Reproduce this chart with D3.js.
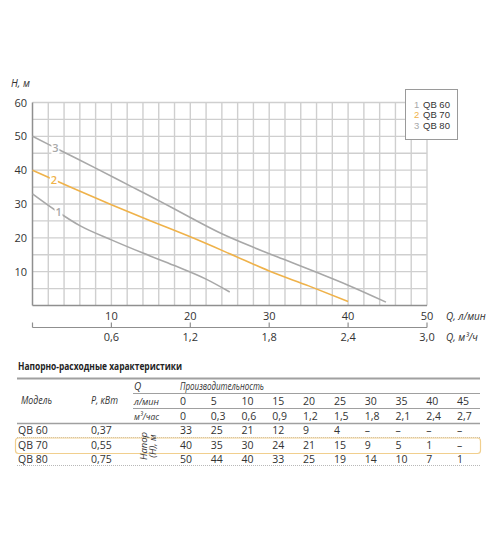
<!DOCTYPE html>
<html lang="ru">
<head>
    <meta charset="utf-8">
    <title>QB pumps: head-flow curves</title>
    <script type="text/javascript" src="https://d3js.org/d3.v7.min.js"></script>
    <style>
        body { margin: 0; background: #fff; }
        text { font-family: "Open Sans", "Noto Sans", sans-serif; fill: #333; }
    </style>
</head>
<body>
    <script type="text/javascript">

        // Curves: [Q l/min, H m]
        var seriesNames = ["QB 60", "QB 70", "QB 80"];
        var seriesNums = ["1", "2", "3"];
        var curveQB60 = [[0, 33], [3, 28], [6, 23.6], [10, 19.4], [14, 15.5], [18, 11.8], [22, 7.8], [25, 4]];
        var curveQB70 = [[0, 40], [5, 34.8], [10, 29.8], [15, 25], [20, 20.3], [25, 15.3], [30, 10.2], [35, 5.8], [40, 1.2]];
        var curveQB80 = [[0, 50], [4, 45.3], [8, 40.6], [12, 35.8], [16, 31], [20, 26], [24, 21.2], [28, 17.2], [32, 13.5], [36, 9.8], [40, 6], [44.8, 1]];
        var labelQ = [3.3, 2.7, 2.9];

        // Axis ticks
        var yTicks = [10, 20, 30, 40, 50, 60];
        var xTicksLpm = [10, 20, 30, 40, 50];
        var xTicksM3h = [0, 0.6, 1.2, 1.8, 2.4, 3.0];

        // Table
        var tableFlowLpm = [0, 5, 10, 15, 20, 25, 30, 35, 40, 45];
        var tableFlowM3h = [0, 0.3, 0.6, 0.9, 1.2, 1.5, 1.8, 2.1, 2.4, 2.7];
        var tablePower = [0.37, 0.55, 0.75];
        var tableHeadQB60 = [33, 25, 21, 12, 9, 4, null, null, null, null];
        var tableHeadQB70 = [40, 35, 30, 24, 21, 15, 9, 5, 1, null];
        var tableHeadQB80 = [50, 44, 40, 33, 25, 19, 14, 10, 7, 1];

        var curves = [curveQB60, curveQB70, curveQB80];
        var tableHeads = [tableHeadQB60, tableHeadQB70, tableHeadQB80];
        var gray = "#a8a8a8", orange = "#efb24a";
        var colors = [gray, orange, gray];

        var comma = function(v, n) { return d3.format("." + n + "f")(v).replace(".", ","); };

        var svg = d3.select("body").append("svg")
            .attr("width", 500)
            .attr("height", 538);

        var x = d3.scaleLinear().domain([0, 50]).range([32.5, 427]);
        var x2 = d3.scaleLinear().domain([0, 3]).range([32.5, 427]);
        var y = d3.scaleLinear().domain([0, 60]).range([305.5, 102.5]);

        // grid
        svg.append("g").selectAll("line")
            .data(d3.range(2, 51, 2))
            .enter().append("line")
            .attr("x1", function(d) { return x(d); })
            .attr("x2", function(d) { return x(d); })
            .attr("y1", y(0)).attr("y2", y(60))
            .attr("stroke", "#cfcfcf")
            .attr("stroke-width", 1.4);
        svg.append("g").selectAll("line")
            .data(d3.range(5, 61, 5))
            .enter().append("line")
            .attr("x1", x(0)).attr("x2", x(50))
            .attr("y1", function(d) { return y(d); })
            .attr("y2", function(d) { return y(d); })
            .attr("stroke", "#cfcfcf")
            .attr("stroke-width", 1.4);

        // axes lines
        svg.append("line").attr("x1", x(0)).attr("x2", x(0)).attr("y1", y(60)).attr("y2", y(0))
            .attr("stroke", "#8f8f8f").attr("stroke-width", 1.5);
        svg.append("line").attr("x1", x(0)).attr("x2", x(50)).attr("y1", y(0)).attr("y2", y(0))
            .attr("stroke", "#8f8f8f").attr("stroke-width", 1.5);

        // y labels
        svg.append("g").selectAll("text")
            .data(yTicks)
            .enter().append("text")
            .attr("x", 27).attr("y", function(d) { return y(d) + 4; })
            .attr("text-anchor", "end").attr("font-size", 11)
            .text(function(d) { return d; });
        svg.append("text").attr("x", 11).attr("y", 87)
            .attr("font-size", 10).attr("font-style", "italic")
            .text("H, м");

        // top x labels (l/min)
        svg.append("g").selectAll("text")
            .data(xTicksLpm)
            .enter().append("text")
            .attr("x", function(d) { return x(d); }).attr("y", 320)
            .attr("text-anchor", "middle").attr("font-size", 11)
            .text(function(d) { return d; });
        svg.append("text").attr("x", 446).attr("y", 320)
            .attr("font-size", 10).attr("font-style", "italic")
            .text("Q, л/мин");

        // second axis (m3/h)
        svg.append("line").attr("x1", x2(0)).attr("x2", x2(3)).attr("y1", 327.5).attr("y2", 327.5)
            .attr("stroke", "#8f8f8f").attr("stroke-width", 1.2);
        svg.append("g").selectAll("line")
            .data(xTicksM3h)
            .enter().append("line")
            .attr("x1", function(d) { return x2(d); }).attr("x2", function(d) { return x2(d); })
            .attr("y1", 322.5).attr("y2", 327.5)
            .attr("stroke", "#8f8f8f").attr("stroke-width", 1.2);
        svg.append("g").selectAll("text")
            .data(xTicksM3h.filter(function(d) { return d > 0; }))
            .enter().append("text")
            .attr("x", function(d) { return x2(d); }).attr("y", 341)
            .attr("text-anchor", "middle").attr("font-size", 11)
            .text(function(d) { return comma(d, 1); });
        svg.append("text").attr("x", 446).attr("y", 341)
            .attr("font-size", 10).attr("font-style", "italic")
            .text("Q, м³/ч");

        // curves
        var line = d3.line()
            .x(function(d) { return x(d[0]); })
            .y(function(d) { return y(d[1]); })
            .curve(d3.curveMonotoneX);

        svg.append("g").selectAll("path")
            .data(curves)
            .enter().append("path")
            .attr("d", line)
            .attr("fill", "none")
            .attr("stroke", function(d, i) { return colors[i]; })
            .attr("stroke-width", 1.6);

        // curve number labels, cut into the line
        function headAt(curve, q) {
            for (var k = 1; k < curve.length; k++) {
                if (q <= curve[k][0]) {
                    var t = (q - curve[k - 1][0]) / (curve[k][0] - curve[k - 1][0]);
                    return curve[k - 1][1] + t * (curve[k][1] - curve[k - 1][1]);
                }
            }
            return curve[curve.length - 1][1];
        }
        var labs = svg.append("g").selectAll("g")
            .data(curves)
            .enter().append("g")
            .attr("transform", function(d, i) {
                return "translate(" + x(labelQ[i]) + "," + y(headAt(d, labelQ[i])) + ")";
            });
        labs.append("rect").attr("x", -4).attr("y", -6).attr("width", 8).attr("height", 12).attr("fill", "#fff");
        labs.append("text")
            .attr("text-anchor", "middle").attr("y", 4)
            .attr("font-size", 11).attr("font-weight", 600)
            .style("fill", function(d, i) { return colors[i]; })
            .text(function(d, i) { return seriesNums[i]; });

        // legend
        svg.append("rect").attr("x", 405.5).attr("y", 89.5).attr("width", 52).attr("height", 50)
            .attr("fill", "#fff").attr("stroke", "#9a9a9a");
        var leg = svg.append("g").selectAll("g")
            .data(seriesNames)
            .enter().append("g")
            .attr("transform", function(d, i) { return "translate(414," + (107.5 + i * 10.5) + ")"; });
        leg.append("text").attr("font-size", 9.5)
            .style("font-family", "'Liberation Sans', sans-serif")
            .style("fill", function(d, i) { return colors[i]; })
            .text(function(d, i) { return seriesNums[i]; });
        leg.append("text").attr("x", 9).attr("font-size", 9.5)
            .style("font-family", "'Liberation Sans', sans-serif")
            .text(function(d) { return d; });

        // ---- table ----
        svg.append("text").attr("x", 18).attr("y", 370)
            .attr("font-size", 10.5).attr("font-weight", "bold").style("fill", "#222")
            .attr("textLength", 164).attr("lengthAdjust", "spacingAndGlyphs")
            .text("Напорно-расходные характеристики");

        function hline(y0, x1, w, dash) {
            svg.append("line").attr("x1", x1).attr("x2", 480).attr("y1", y0).attr("y2", y0)
                .attr("stroke", dash ? "#b8b8b8" : "#a0a0a0")
                .attr("stroke-width", w)
                .attr("stroke-dasharray", dash ? "1,1" : null);
        }
        hline(378.5, 17, 2);
        hline(393.5, 133, 1.2);
        hline(408.5, 133, 1.2);
        hline(423.5, 17, 1.5);
        hline(437.5, 17, 1, true);
        hline(465.5, 17, 1, true);

        svg.append("rect").attr("x", 15.5).attr("y", 438).attr("width", 465).attr("height", 15.5)
            .attr("rx", 3).attr("fill", "none").attr("stroke", "#f1cf8e").attr("stroke-width", 1.2);

        var colX = d3.scalePoint().domain(tableFlowLpm).range([180, 457]);

        function italic(tx, ty, size, str, len) {
            var t = svg.append("text").attr("x", tx).attr("y", ty)
                .attr("font-size", size).attr("font-style", "italic").text(str);
            if (len) t.attr("textLength", len).attr("lengthAdjust", "spacingAndGlyphs");
        }
        italic(134, 390, 10, "Q");
        italic(180, 390, 10, "Производительность", 84);
        italic(21, 404, 10, "Модель", 31);
        italic(91, 404, 10, "P, кВт", 27);
        italic(134, 405, 9.5, "л/мин", 25);
        italic(134, 420, 9.5, "м³/час", 25);

        svg.append("g").selectAll("text")
            .data(tableFlowLpm)
            .enter().append("text")
            .attr("x", function(d) { return colX(d); }).attr("y", 405)
            .attr("font-size", 10.5)
            .text(function(d) { return d; });
        svg.append("g").selectAll("text")
            .data(tableFlowM3h)
            .enter().append("text")
            .attr("x", function(d, i) { return colX(tableFlowLpm[i]); }).attr("y", 420)
            .attr("font-size", 10.5)
            .text(function(d) { return d === 0 ? "0" : comma(d, 1); });

        // rotated "Напор (Н), м"
        var rot = svg.append("g").attr("transform", "translate(148,446) rotate(-90)");
        rot.append("text").attr("text-anchor", "middle").attr("y", -1)
            .attr("font-size", 9.5).attr("font-style", "italic").text("Напор");
        rot.append("text").attr("text-anchor", "middle").attr("y", 8)
            .attr("font-size", 9.5).attr("font-style", "italic").text("(Н), м");

        var rowY = [434, 449, 463];
        seriesNames.forEach(function(name, r) {
            var g = svg.append("g");
            g.append("text").attr("x", 18).attr("y", rowY[r]).attr("font-size", 10.5).text(name);
            g.append("text").attr("x", 91).attr("y", rowY[r]).attr("font-size", 10.5).text(comma(tablePower[r], 2));
            g.selectAll("text.v")
                .data(tableHeads[r])
                .enter().append("text")
                .attr("class", "v")
                .attr("x", function(d, i) { return colX(tableFlowLpm[i]); })
                .attr("y", rowY[r])
                .attr("font-size", 10.5)
                .text(function(d) { return d === null ? "–" : d; });
        });

    </script>
</body>
</html>
